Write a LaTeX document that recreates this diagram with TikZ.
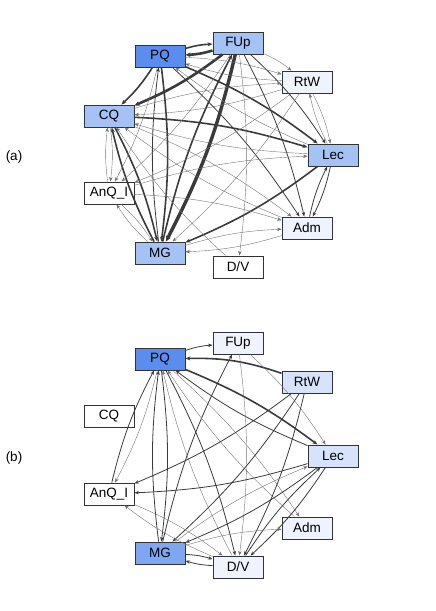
\documentclass[tikz,border=0pt]{standalone}
\usepackage{fontspec}
\setmainfont{Liberation Sans}
\usetikzlibrary{arrows.meta}

\definecolor{blueA}{HTML}{5B8DEF}
\definecolor{blueB}{HTML}{7FA6F0}
\definecolor{blueC}{HTML}{A4C2F4}
\definecolor{blueD}{HTML}{D6E3FA}
\definecolor{blueE}{HTML}{EEF3FD}
\definecolor{edgegray}{HTML}{3A3A3A}

\begin{document}
\begin{tikzpicture}[x=1pt, y=-1pt,
                    box/.style={draw=black!80, line width=0.9pt, minimum width=50pt,
                                minimum height=22pt, inner sep=0pt, fill=white,
                                font=\fontsize{13.5}{15}\selectfont},
                    e1/.style={draw=black!55, line width=0.4pt, bend left=7,
                               -{Stealth[length=4.5pt, width=3.5pt]}},
                    e2/.style={draw=edgegray, line width=0.8pt, bend left=7,
                               -{Stealth[length=4.5pt, width=3.5pt]}},
                    e3/.style={draw=edgegray, line width=1.6pt, bend left=7,
                               -{Stealth[length=5pt, width=4pt]}},
                    e4/.style={draw=edgegray, line width=2.6pt, bend left=7,
                               -{Stealth[length=5pt, width=4.5pt]}},
                    e5/.style={draw=edgegray, line width=3.4pt, bend left=7,
                               -{Stealth[length=5.5pt, width=5pt]}}]
    \useasboundingbox (0,0) rectangle (436,611);

    % (a)
    \node[font=\fontsize{13.5}{15}\selectfont] (la) at (14,157) {(a)};
    \node[box, fill=blueA] (aPQ)  at (160,56)  {PQ};
    \node[box, fill=blueC] (aFUp) at (238,43)  {FUp};
    \node[box, fill=blueE] (aRtW) at (307,82)  {RtW};
    \node[box, fill=blueC] (aCQ)  at (109,116) {CQ};
    \node[box, fill=blueC] (aLec) at (333,155) {Lec};
    \node[box]             (aAnQ) at (109,193) {AnQ\_I};
    \node[box, fill=blueE] (aAdm) at (307,228) {Adm};
    \node[box, fill=blueC] (aMG)  at (160,253) {MG};
    \node[box]             (aDV)  at (238,267) {D/V};

    \draw[e4] (aFUp) to (aPQ);
    \draw[e3] (aPQ) to (aFUp);
    \draw[e4] (aFUp) to (aCQ);
    \draw[e3] (aPQ) to (aCQ);
    \draw[e5] (aFUp) to (aMG);
    \draw[e3] (aMG) to (aFUp);
    \draw[e3] (aPQ) to (aMG);
    \draw[e2] (aMG) to (aPQ);
    \draw[e3] (aCQ) to (aMG);
    \draw[e3] (aMG) to (aCQ);
    \draw[e3] (aPQ) to (aLec);
    \draw[e3] (aCQ) to (aLec);
    \draw[e3] (aLec) to (aMG);
    \draw[e2] (aFUp) to (aLec);
    \draw[e1] (aFUp) to (aRtW);
    \draw[e1] (aPQ) to (aRtW);
    \draw[e1] (aRtW) to (aPQ);
    \draw[e1] (aRtW) to (aCQ);
    \draw[e1] (aCQ) to (aRtW);
    \draw[e1] (aRtW) to (aLec);
    \draw[e1] (aLec) to (aRtW);
    \draw[e2] (aLec) to (aAdm);
    \draw[e2] (aAdm) to (aLec);
    \draw[e2] (aFUp) to (aAdm);
    \draw[e1] (aFUp) to (aDV);
    \draw[e2] (aPQ) to (aAdm);
    \draw[e1] (aCQ) to (aAdm);
    \draw[e1] (aAdm) to (aMG);
    \draw[e1] (aMG) to (aAdm);
    \draw[e1] (aDV) to (aCQ);
    \draw[e1] (aAnQ) to (aCQ);
    \draw[e1] (aCQ) to (aAnQ);
    \draw[e1] (aAnQ) to (aMG);
    \draw[e1] (aMG) to (aAnQ);
    \draw[e1] (aPQ) to (aAnQ);
    \draw[e1] (aFUp) to (aAnQ);
    \draw[e1] (aAnQ) to (aLec);
    \draw[e1] (aAnQ) to (aAdm);
    \draw[e1] (aRtW) to (aMG);
    \draw[e1] (aRtW) to (aAnQ);
    \draw[e1] (aLec) to (aCQ);
    \draw[e1] (aLec) to (aPQ);
    \draw[e1] (aAdm) to (aCQ);

    % (b)
    \node[font=\fontsize{13.5}{15}\selectfont] (lb) at (14,458) {(b)};
    \node[box, fill=blueA] (bPQ)  at (160,359) {PQ};
    \node[box, fill=blueE] (bFUp) at (238,343) {FUp};
    \node[box, fill=blueD] (bRtW) at (307,382) {RtW};
    \node[box]             (bCQ)  at (109,416) {CQ};
    \node[box, fill=blueD] (bLec) at (333,456) {Lec};
    \node[box]             (bAnQ) at (109,494) {AnQ\_I};
    \node[box, fill=blueE] (bAdm) at (307,528) {Adm};
    \node[box, fill=blueB] (bMG)  at (160,553) {MG};
    \node[box, fill=blueE] (bDV)  at (238,567) {D/V};

    \draw[e2] (bPQ) to (bFUp);
    \draw[e3, bend left=-10] (bRtW) to (bPQ);
    \draw[e3] (bPQ) to (bLec);
    \draw[e2] (bLec) to (bPQ);
    \draw[e1] (bPQ) to (bAnQ);
    \draw[e2] (bAnQ) to (bPQ);
    \draw[e2] (bPQ) to (bMG);
    \draw[e2] (bMG) to (bPQ);
    \draw[e2] (bMG) to (bFUp);
    \draw[e2] (bPQ) to (bDV);
    \draw[e1] (bDV) to (bPQ);
    \draw[e1] (bPQ) to (bAdm);
    \draw[e1] (bAdm) to (bPQ);
    \draw[e1] (bFUp) to (bDV);
    \draw[e1] (bFUp) to (bLec);
    \draw[e2] (bRtW) to (bAnQ);
    \draw[e2] (bRtW) to (bMG);
    \draw[e2] (bRtW) to (bDV);
    \draw[e2] (bLec) to (bAnQ);
    \draw[e2] (bLec) to (bMG);
    \draw[e2] (bLec) to (bDV);
    \draw[e2] (bDV) to (bLec);
    \draw[e1] (bMG) to (bLec);
    \draw[e1] (bAnQ) to (bDV);
    \draw[e1] (bDV) to (bAnQ);
    \draw[e2] (bMG) to (bDV);
    \draw[e2] (bDV) to (bMG);
    \draw[e1] (bMG) to (bAdm);
\end{tikzpicture}
\end{document}
